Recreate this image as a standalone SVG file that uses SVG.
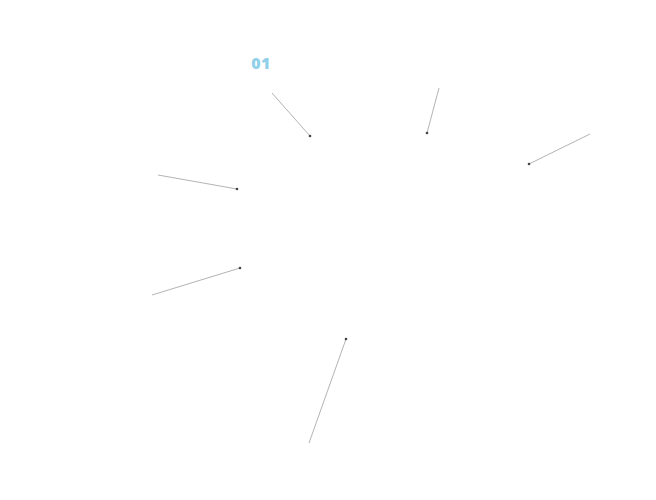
<svg xmlns="http://www.w3.org/2000/svg" width="656" height="500" viewBox="0 0 656 500">
<style>
.ln{stroke:#a0a0a0;stroke-width:0.8;fill:none}
.dot{fill:#444}
.num{font-family:"Open Sans","Liberation Sans",sans-serif;font-weight:800;font-size:16px;letter-spacing:0.5px;fill:#90d0e8}
</style>
<rect width="656" height="500" fill="#fff"/>
<g id="label-01"><text class="num" x="261" y="69" text-anchor="middle">01</text></g>
<g id="connectors">
<line class="ln" x1="272" y1="93" x2="310" y2="136"/>
<line class="ln" x1="439" y1="88" x2="427" y2="133"/>
<line class="ln" x1="590" y1="134" x2="529" y2="164"/>
<line class="ln" x1="158" y1="175" x2="237" y2="189"/>
<line class="ln" x1="152" y1="295" x2="240" y2="268"/>
<line class="ln" x1="309" y1="443" x2="346" y2="339"/>
<circle class="dot" cx="310" cy="136" r="1.3"/>
<circle class="dot" cx="427" cy="133" r="1.3"/>
<circle class="dot" cx="529" cy="164" r="1.3"/>
<circle class="dot" cx="237" cy="189" r="1.3"/>
<circle class="dot" cx="240" cy="268" r="1.3"/>
<circle class="dot" cx="346" cy="339" r="1.3"/>
</g>
</svg>
